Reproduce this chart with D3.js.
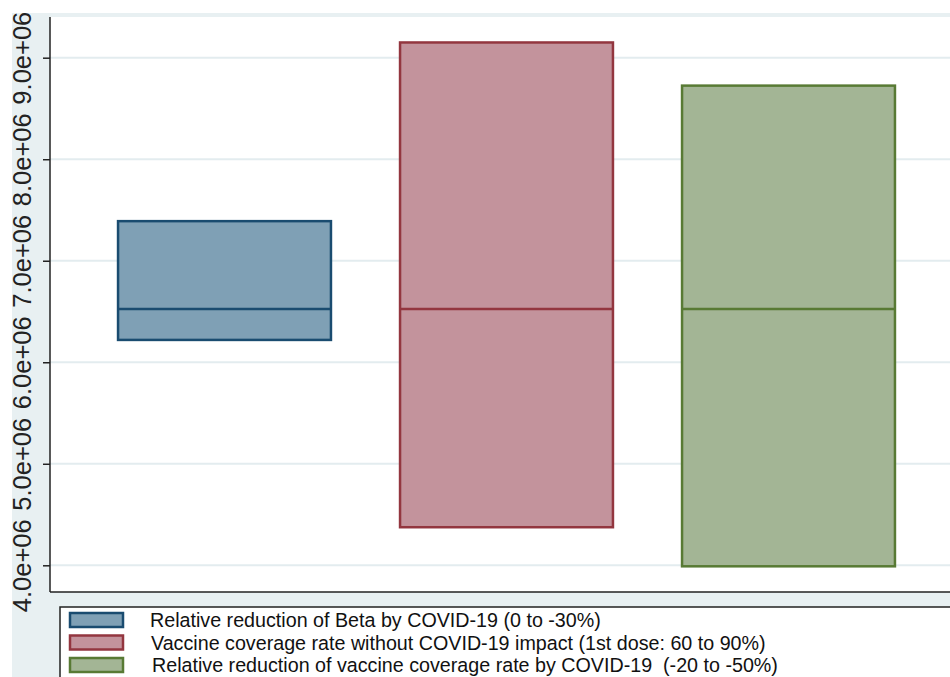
<!DOCTYPE html>
<html>
<head>
<meta charset="utf-8">
<script src="https://cdn.jsdelivr.net/npm/d3@7"></script>
<style>
    body { margin: 0; background: #fff; }
    svg { display: block; font-family: "Liberation Sans", Arial, sans-serif; }
</style>
</head>
<body>
<div id="chartDiv"></div>
<script>

var series = [
    "Relative reduction of Beta by COVID-19 (0 to -30%)",
    "Vaccine coverage rate without COVID-19 impact (1st dose: 60 to 90%)",
    "Relative reduction of vaccine coverage rate by COVID-19  (-20 to -50%)"
];

var lowValues = [6.22e6, 4.375e6, 3.99e6];
var midValues = [6.525e6, 6.525e6, 6.525e6];
var highValues = [7.39e6, 9.15e6, 8.725e6];

var tickValues = [4e6, 5e6, 6e6, 7e6, 8e6, 9e6];

var fills = ["#7fa0b5", "#c3939c", "#a3b595"];
var strokes = ["#1a4c70", "#93363f", "#587a34"];

var width = 950,
    height = 677;

var plot = {
    left: 50,
    top: 17,
    bottom: 592
};

var svg = d3.select("#chartDiv").append("svg")
    .attr("width", width)
    .attr("height", height);

// stata style graph region
svg.append("rect")
    .attr("x", 12)
    .attr("y", 13)
    .attr("width", width)
    .attr("height", height)
    .style("fill", "#e8f0f2");

svg.append("rect")
    .attr("x", plot.left)
    .attr("y", plot.top)
    .attr("width", width - plot.left)
    .attr("height", plot.bottom - plot.top)
    .style("fill", "#fff");

var y = d3.scaleLinear()
    .domain([4e6, 9e6])
    .range([565.3, 57.7]);

var x = d3.scaleBand()
    .domain(d3.range(series.length))
    .range([83.5, 929.5])
    .paddingInner(0.245)
    .paddingOuter(0.1225);

// grid lines
svg.append("g")
    .selectAll("line")
    .data(tickValues)
    .enter()
    .append("line")
    .attr("x1", plot.left)
    .attr("x2", width)
    .attr("y1", function (d) { return y(d); })
    .attr("y2", function (d) { return y(d); })
    .style("stroke", "#e3ecef")
    .style("stroke-width", 2);

// boxes
var boxes = svg.append("g")
    .selectAll(".box")
    .data(series)
    .enter()
    .append("g")
    .attr("class", "box");

boxes.append("rect")
    .attr("x", function (d, i) { return x(i); })
    .attr("y", function (d, i) { return y(highValues[i]); })
    .attr("width", x.bandwidth())
    .attr("height", function (d, i) { return y(lowValues[i]) - y(highValues[i]); })
    .style("fill", function (d, i) { return fills[i]; })
    .style("stroke", function (d, i) { return strokes[i]; })
    .style("stroke-width", 2.5);

boxes.append("line")
    .attr("x1", function (d, i) { return x(i); })
    .attr("x2", function (d, i) { return x(i) + x.bandwidth(); })
    .attr("y1", function (d, i) { return y(midValues[i]); })
    .attr("y2", function (d, i) { return y(midValues[i]); })
    .style("stroke", function (d, i) { return strokes[i]; })
    .style("stroke-width", 2.5);

// y axis
var yAxis = d3.axisLeft(y)
    .tickValues(tickValues)
    .tickSizeInner(7)
    .tickSizeOuter(0)
    .tickFormat(function (d) {
        return (d / 1e6).toFixed(1) + "e+06";
    });

var yG = svg.append("g")
    .attr("class", "y axis")
    .attr("transform", "translate(" + plot.left + ",0)")
    .call(yAxis);

yG.select(".domain").remove();
yG.selectAll(".tick line").style("stroke", "#222").style("stroke-width", 1.5);
yG.selectAll(".tick text")
    .attr("transform", "rotate(-90)")
    .attr("x", 0)
    .attr("y", -19)
    .attr("dy", 0)
    .style("text-anchor", "middle")
    .style("font-family", "Liberation Sans, Arial, sans-serif")
    .style("font-size", "25.5px")
    .style("fill", "#222");

// axis lines
svg.append("line")
    .attr("x1", plot.left)
    .attr("x2", plot.left)
    .attr("y1", plot.top)
    .attr("y2", plot.bottom)
    .style("stroke", "#222")
    .style("stroke-width", 1.5);

svg.append("line")
    .attr("x1", plot.left)
    .attr("x2", width)
    .attr("y1", plot.bottom)
    .attr("y2", plot.bottom)
    .style("stroke", "#222")
    .style("stroke-width", 1.5);

// legend
var legend = svg.append("g")
    .attr("class", "legend");

legend.append("rect")
    .attr("x", 60)
    .attr("y", 607)
    .attr("width", 950)
    .attr("height", 100)
    .style("fill", "#fff")
    .style("stroke", "#222")
    .style("stroke-width", 1.5);

var item = legend.selectAll(".item")
    .data(series)
    .enter()
    .append("g")
    .attr("class", "item")
    .attr("transform", function (d, i) {
        return "translate(0," + (613 + i * 22.5) + ")";
    });

item.append("rect")
    .attr("x", 70)
    .attr("y", 0)
    .attr("width", 53)
    .attr("height", 14)
    .style("fill", function (d, i) { return fills[i]; })
    .style("stroke", function (d, i) { return strokes[i]; })
    .style("stroke-width", 2.5);

item.append("text")
    .attr("x", function (d, i) { return 150 + i; })
    .attr("y", 14)
    .attr("xml:space", "preserve")
    .style("white-space", "pre")
    .style("font-size", "19.7px")
    .style("fill", "#111")
    .text(function (d) { return d; });

// image is cropped at top and left
svg.append("rect")
    .attr("x", 0)
    .attr("y", 0)
    .attr("width", width)
    .attr("height", 13)
    .style("fill", "#fff");

</script>
</body>
</html>
